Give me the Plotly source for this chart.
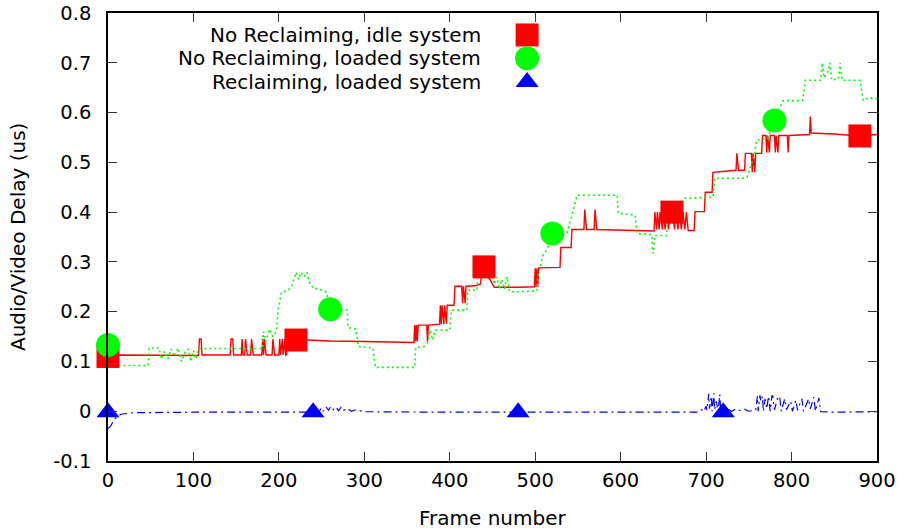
import plotly.graph_objects as go

# ---------------- data ----------------
red_pts = [(0,0.110),(12,0.109),(13,0.113),(106,0.112),(107,0.145),(109,0.145),(110,0.113),
    (143,0.113),(144,0.145),(146,0.145),(147,0.113),
    (156,0.113),(157,0.145),(158,0.113),(160,0.113),(161,0.145),(163,0.113),
    (167,0.113),(168,0.145),(170,0.113),
    (180,0.113),(181,0.145),(182,0.113),(183,0.145),(185,0.113),
    (192,0.113),(193,0.145),(195,0.113),
    (200,0.113),(201,0.145),(202,0.113),(204,0.145),(205,0.113),(207,0.145),(208,0.113),
    (209,0.114),(210,0.145),(230,0.143),(260,0.141),(300,0.140),(358,0.138),
    (359,0.173),(360,0.140),(361,0.173),(362,0.140),(363,0.173),(373,0.173),(374,0.140),(375,0.173),(388,0.175),
    (389,0.213),(390,0.175),(391,0.213),(393,0.175),(394,0.213),(396,0.176),(397,0.213),(405,0.213),
    (406,0.251),(414,0.251),(415,0.217),(416,0.251),(418,0.217),(419,0.251),(430,0.252),(436,0.256),
    (438,0.290),(442,0.290),(443,0.270),(447,0.265),(452,0.249),(480,0.249),(499,0.250),
    (500,0.287),(501,0.250),(502,0.287),(503,0.250),(504,0.288),(529,0.289),
    (530,0.329),(542,0.329),(543,0.365),(557,0.365),(558,0.405),(560,0.365),(569,0.365),(570,0.405),(572,0.365),(600,0.364),(639,0.362),
    (640,0.400),(642,0.365),(643,0.400),(645,0.365),(646,0.400),(649,0.365),(650,0.400),(652,0.365),(654,0.400),(656,0.365),(658,0.400),
    (661,0.400),(663,0.365),(665,0.400),(667,0.365),(669,0.400),(671,0.365),(673,0.400),(675,0.365),(677,0.400),(679,0.363),(686,0.363),
    (687,0.401),(698,0.401),(699,0.440),(707,0.440),(708,0.480),(720,0.482),(735,0.484),(736,0.518),(738,0.484),(745,0.484),
    (746,0.518),(753,0.518),(754,0.480),(755,0.518),(757,0.480),(758,0.518),(765,0.518),
    (766,0.554),(770,0.554),(771,0.520),(772,0.554),(774,0.520),(775,0.554),(780,0.554),(781,0.520),(782,0.554),(784,0.520),
    (785,0.554),(795,0.554),(796,0.520),(797,0.554),(821,0.556),(822,0.592),(823,0.559),(850,0.557),(880,0.553),(900,0.556)]

green_pts = [(0,0.133),(1,0.092),(47,0.092),(48,0.127),(60,0.127),(62,0.105),(66,0.120),(70,0.105),(74,0.125),
    (78,0.110),(82,0.127),(86,0.100),(90,0.118),(94,0.125),(97,0.100),(100,0.122),(103,0.105),(106,0.125),
    (108,0.126),(181,0.126),(182,0.160),(185,0.140),(189,0.165),(193,0.150),(197,0.160),(199,0.200),(203,0.239),
    (210,0.242),(215,0.250),(218,0.265),(220,0.279),(223,0.265),(226,0.279),(229,0.270),(233,0.279),(235,0.260),
    (238,0.255),(240,0.247),(248,0.245),(256,0.239),(258,0.215),(260,0.205),(270,0.205),(280,0.203),(281,0.168),
    (290,0.165),(293,0.130),(310,0.127),(313,0.088),(359,0.088),(360,0.127),(370,0.130),(375,0.140),(377,0.163),
    (380,0.143),(383,0.163),(400,0.163),(402,0.203),(420,0.203),(421,0.243),(432,0.243),(433,0.279),(450,0.279),
    (452,0.255),(455,0.270),(458,0.245),(461,0.265),(464,0.245),(467,0.270),(470,0.240),(480,0.240),(502,0.242),
    (503,0.270),(509,0.313),(515,0.329),(520,0.357),(537,0.357),(543,0.394),(549,0.434),(596,0.434),(597,0.398),
    (617,0.394),(619,0.357),(636,0.355),(638,0.317),(640,0.353),(654,0.353),(655,0.390),(675,0.428),(708,0.430),
    (710,0.468),(743,0.468),(748,0.470),(757,0.518),(759,0.545),(772,0.548),(780,0.584),(790,0.624),(813,0.624),
    (816,0.665),(834,0.665),(836,0.700),(838,0.670),(842,0.680),(845,0.700),(847,0.665),(855,0.668),(857,0.700),
    (859,0.665),(880,0.665),(882,0.640),(884,0.624),(890,0.630),(900,0.628)]

blue_pts = [(0,-0.035),(3,-0.030),(8,-0.015),(15,-0.006),(30,-0.003),(100,-0.002),(240,-0.002),(245,0.004),
    (247,-0.001),(250,0.007),(252,0.000),(255,0.009),(258,0.002),(261,0.010),(264,0.003),(267,0.008),(270,0.001),
    (273,0.009),(276,0.002),(280,0.006),(285,0.000),(290,0.003),(300,-0.001),(400,-0.002),(690,-0.002),(695,0.003),
    (697,-0.001),(700,0.010),(701,0.002),(703,0.035),(704,0.005),(706,0.030),(707,0.000),(709,0.036),(710,0.003),
    (712,0.020),(714,-0.001),(716,0.034),(717,0.002),(720,0.000),(725,0.004),(730,0.000),(735,0.005),(740,0.001),
    (745,0.004),(750,0.000),(758,0.002),(760,0.030),(761,0.000),(763,0.032),(764,0.020),(766,0.030),(767,0.000),
    (769,0.025),(771,0.005),(773,0.030),(775,0.000),(777,0.031),(778,0.031),(780,0.003),(784,0.028),(786,0.030),
    (788,0.000),(792,0.025),(794,0.003),(799,0.020),(801,0.000),(805,0.022),(807,0.002),(812,0.025),(814,0.000),
    (820,0.025),(822,0.005),(826,0.028),(828,0.000),(832,0.027),(834,-0.001),(850,-0.002),(900,-0.001)]

red_x = [p[0] for p in red_pts]
red_y = [p[1] for p in red_pts]
green_x = [p[0] for p in green_pts]
green_y = [p[1] for p in green_pts]
blue_x = [p[0] for p in blue_pts]
blue_y = [p[1] for p in blue_pts]

red_mark_x = [0, 220, 440, 660, 880]
red_mark_y = [0.110, 0.143, 0.290, 0.400, 0.553]
green_mark_x = [0, 260, 520, 780]
green_mark_y = [0.133, 0.205, 0.357, 0.584]
blue_mark_x = [0, 240, 480, 720]
blue_mark_y = [-0.002, -0.002, -0.002, -0.002]

series_names = ["No Reclaiming, idle system", "No Reclaiming, loaded system", "Reclaiming, loaded system"]
x_ticks = [0, 100, 200, 300, 400, 500, 600, 700, 800, 900]
y_ticks = [-0.1, 0, 0.1, 0.2, 0.3, 0.4, 0.5, 0.6, 0.7, 0.8]
y_tick_labels = ["-0.1", "0", "0.1", "0.2", "0.3", "0.4", "0.5", "0.6", "0.7", "0.8"]

RED, GREEN, BLUE = "#ff0000", "#00ff00", "#0000ff"
FONT = "DejaVu Sans"

fig = go.Figure()
fig.add_trace(go.Scatter(x=red_x, y=red_y, mode="lines", line=dict(color=RED, width=1.4)))
fig.add_trace(go.Scatter(x=green_x, y=green_y, mode="lines", line=dict(color=GREEN, width=1.6, dash="2px,3px")))
fig.add_trace(go.Scatter(x=blue_x, y=blue_y, mode="lines", line=dict(color=BLUE, width=1.2, dash="8px,4px,2px,4px")))
fig.add_trace(go.Scatter(x=red_mark_x, y=red_mark_y, mode="markers", cliponaxis=False,
                         marker=dict(symbol="square", size=23, color=RED, line=dict(width=0))))
fig.add_trace(go.Scatter(x=green_mark_x, y=green_mark_y, mode="markers", cliponaxis=False,
                         marker=dict(symbol="circle", size=24, color=GREEN, line=dict(width=0))))
fig.add_trace(go.Scatter(x=blue_mark_x, y=blue_mark_y, mode="markers", cliponaxis=False,
                         marker=dict(symbol="triangle-up", size=20, color=BLUE, line=dict(width=0))))

# manual gnuplot-style key (text right-aligned, symbol on the right)
key_y = [0.951, 0.899, 0.846]
key_sym = ["square", "circle", "triangle-up"]
key_col = [RED, GREEN, BLUE]
key_size = [23, 24, 20]
for name, ky, sym, col, sz in zip(series_names, key_y, key_sym, key_col, key_size):
    fig.add_trace(go.Scatter(x=[0.545], y=[ky], xaxis="x2", yaxis="y2", mode="markers",
                             marker=dict(symbol=sym, size=sz, color=col, line=dict(width=0))))
    fig.add_annotation(x=0.4876, y=ky, xref="paper", yref="paper", text=name, showarrow=False,
                       xanchor="right", yanchor="middle", font=dict(family=FONT, size=20, color="black"))

# axis titles
fig.add_annotation(x=0.5, y=-0.127, xref="paper", yref="paper", text="Frame number", showarrow=False,
                   xanchor="center", yanchor="middle", font=dict(family=FONT, size=20, color="black"))
fig.add_annotation(x=-0.117, y=0.5, xref="paper", yref="paper", text="Audio/Video Delay (us)", showarrow=False,
                   textangle=-90, xanchor="center", yanchor="middle", font=dict(family=FONT, size=20, color="black"))

axis_common = dict(showline=True, linecolor="black", linewidth=1.5, mirror="ticks",
                   ticks="inside", ticklen=9, tickwidth=1, tickcolor="#333333",
                   showgrid=False, zeroline=False, automargin=False,
                   tickfont=dict(family=FONT, size=19.5, color="black"))
fig.update_layout(
    width=902, height=531,
    margin=dict(l=108, r=25, t=13, b=70),
    plot_bgcolor="white", paper_bgcolor="white",
    showlegend=False,
    xaxis=dict(range=[0, 900], tickvals=x_ticks, ticklabelstandoff=1, **axis_common),
    yaxis=dict(range=[-0.1, 0.8], tickvals=y_ticks, ticktext=y_tick_labels, ticklabelstandoff=11, **axis_common),
    xaxis2=dict(range=[0, 1], overlaying="x", visible=False),
    yaxis2=dict(range=[0, 1], overlaying="y", visible=False),
)
fig.write_html("out.html", config={"displayModeBar": False},
               post_script="document.body.style.margin='0px';document.body.style.overflow='hidden';")
